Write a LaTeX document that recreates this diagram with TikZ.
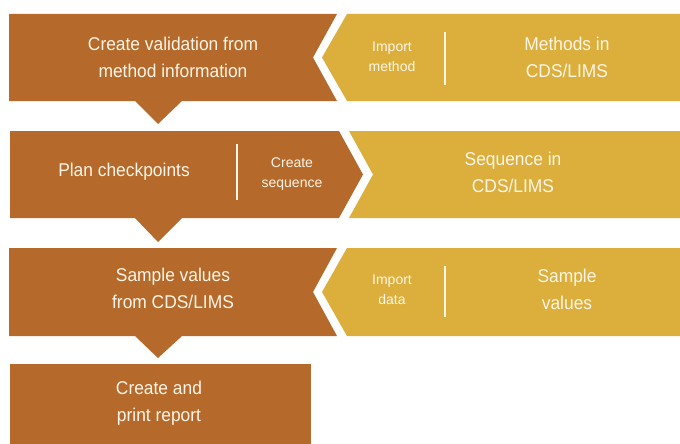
\documentclass[tikz,border=0pt]{standalone}
\usepackage{fontspec}
\setmainfont{Liberation Sans}
\newfontfamily\condfont[FakeStretch=0.94]{Liberation Sans}
\definecolor{brownbox}{HTML}{B5692A}
\definecolor{goldbox}{HTML}{DCAE3C}
\definecolor{cream}{HTML}{FFF6E8}
\begin{document}
\begin{tikzpicture}[x=1pt,y=-1pt,
  brownshape/.style={fill=brownbox,draw=none},
  goldshape/.style={fill=goldbox,draw=none},
  divider/.style={draw=cream,line width=1.3pt},
  bigtext/.style={text=cream,align=center,inner sep=0pt,font=\condfont\fontsize{18.5}{27}\selectfont},
  smalltext/.style={text=cream,align=center,inner sep=0pt,font=\fontsize{14}{20}\selectfont}]
\useasboundingbox (0,0) rectangle (680,444);
% row 1
\path[brownshape] (9,14) -- (337,14) -- (313,57.5) -- (337,101) -- (182,101) -- (158,124) -- (135,101) -- (9,101) -- cycle;
\path[goldshape] (347,14) -- (680,14) -- (680,101) -- (347,101) -- (322,57.5) -- cycle;
\coordinate (d1a) at (445,32); \coordinate (d1b) at (445,85);
\draw[divider] (d1a) -- (d1b);
\node[bigtext] (t1) at (173,57) {Create validation from\\method information};
\node[smalltext] (im) at (392,57) {Import\\method};
\node[bigtext] (m) at (567,57) {Methods in\\CDS/LIMS};
% row 2
\path[brownshape] (10,131) -- (339,131) -- (363,174.5) -- (339,218) -- (182,218) -- (158,242) -- (135,218) -- (10,218) -- cycle;
\path[goldshape] (349,131) -- (680,131) -- (680,218) -- (349,218) -- (373,174.5) -- cycle;
\coordinate (d2a) at (237,144); \coordinate (d2b) at (237,200);
\draw[divider] (d2a) -- (d2b);
\node[bigtext] (pc) at (124,172) {Plan checkpoints};
\node[smalltext] (cs) at (292,174) {Create\\sequence};
\node[bigtext] (sq) at (513,172) {Sequence in\\CDS/LIMS};
% row 3
\path[brownshape] (9,248) -- (337,248) -- (313,292) -- (337,336) -- (182,336) -- (158,358) -- (135,336) -- (9,336) -- cycle;
\path[goldshape] (347,248) -- (680,248) -- (680,336) -- (347,336) -- (322,292) -- cycle;
\coordinate (d3a) at (445,266); \coordinate (d3b) at (445,317);
\draw[divider] (d3a) -- (d3b);
\node[bigtext] (sv) at (173,288.5) {Sample values\\from CDS/LIMS};
\node[smalltext] (id) at (392,289.5) {Import\\data};
\node[bigtext] (sv2) at (567,289) {Sample\\values};
% row 4
\path[brownshape] (10,364) rectangle (311,444);
\node[bigtext] (cr) at (159,403.5) {Create and\\print report};
\end{tikzpicture}
\end{document}
